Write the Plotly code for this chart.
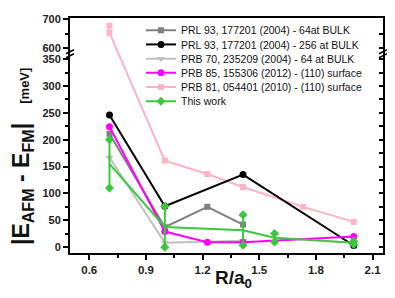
import plotly.graph_objects as go

# ---------------- data ----------------
prl64_x = [0.707, 1.0, 1.225, 1.414]
prl64_y = [211, 37, 75, 42]

prl256_x = [0.707, 1.0, 1.414, 2.0]
prl256_y = [246, 76, 135, 3]

prb70_x = [0.707, 1.0, 1.414]
prb70_y = [167, 8, 12]

prb85_x = [0.707, 1.0, 1.225, 1.414, 2.0]
prb85_y = [224, 29, 9, 9, 20]

prb81_x = [0.707, 0.707, 1.0, 1.225, 1.414, 1.732, 2.0]
prb81_y = [677, 653, 161, 136, 112, 75, 47]

this_x = [0.707, 1.0, 1.414, 1.581, 2.0]
this_y = [155, 37.5, 31.5, 17.5, 8]
this_lo = [110, 0, 3.5, 9.5, 5]
this_hi = [200, 76, 60, 25.5, 11]

names = [
    "PRL 93, 177201 (2004) - 64at BULK",
    "PRL 93, 177201 (2004) - 256 at BULK",
    "PRB 70, 235209 (2004) - 64 at BULK",
    "PRB 85, 155306 (2012) - (110) surface",
    "PRB 81, 054401 (2010) - (110) surface",
    "This work",
]

y_major = [0, 50, 100, 150, 200, 250, 300, 350, 600, 700]
y_minor = [25, 75, 125, 175, 225, 275, 325, 650]
x_ticks = [0.6, 0.9, 1.2, 1.5, 1.8, 2.1]

# ---------------- screen geometry ----------------
# the page body has an 8px margin, so the figure starts at (8, 8) on screen
OFF = 8
PL, PR, PT, PB = 70, 383, 13, 253          # plot area on screen
FIG_W, FIG_H = 395 - OFF, 298 - OFF
PW, PH = PR - PL, PB - PT

# ---------------- broken-axis scale ----------------
LOW_SCALE = (247 - 55) / 350                # px per unit, lower part
LOW_MAX = 350
GAP = 11 / LOW_SCALE                         # visual gap 350 -> 600
UP_MIN = 600
UP_SCALE = 0.30 / LOW_SCALE                  # upper part compression


def brk(v):
    if v is None:
        return None
    return v if v <= LOW_MAX + 10 else LOW_MAX + GAP + (v - UP_MIN) * UP_SCALE


def tb(vals):
    return [brk(v) for v in vals]


y_bottom = -(PB - 247) / LOW_SCALE
y_top = y_bottom + PH / LOW_SCALE
yr = [y_bottom, y_top]


def px_x(px):
    return (px - PL) / PW


def px_y(py):
    return (PB - py) / PH


FONT = "Arial, Liberation Sans, sans-serif"
GREEN = "#3cc83c"

fig = go.Figure()

series = [
    (prb81_x, prb81_y, "#ffb3c6", "square", 6, names[4], "legend5"),
    (prl64_x, prl64_y, "#808080", "square", 6, names[0], "legend"),
    (prb70_x, prb70_y, "#c0c0c0", "triangle-down", 7, names[2], "legend3"),
    (prl256_x, prl256_y, "#000000", "circle", 7, names[1], "legend2"),
    (prb85_x, prb85_y, "#ff00ff", "circle", 7, names[3], "legend4"),
]
for xs, ys, col, sym, sz, nm, lg in series:
    fig.add_trace(go.Scatter(
        x=xs, y=tb(ys), name=nm, mode="lines+markers", legend=lg,
        line=dict(color=col, width=2),
        marker=dict(color=col, symbol=sym, size=sz),
        text=[str(v) for v in ys], hoverinfo="text+name",
    ))

# This work: line through mid values, vertical error bars, diamonds at ends
fig.add_trace(go.Scatter(
    x=this_x, y=this_y, mode="lines", showlegend=False,
    line=dict(color=GREEN, width=2),
    error_y=dict(type="data", symmetric=False,
                 array=[h - m for h, m in zip(this_hi, this_y)],
                 arrayminus=[m - l for m, l in zip(this_y, this_lo)],
                 color=GREEN, thickness=2, width=0),
))
fig.add_trace(go.Scatter(
    x=this_x + this_x, y=this_lo + this_hi, mode="markers", showlegend=False,
    marker=dict(color=GREEN, symbol="diamond", size=7),
))
fig.add_trace(go.Scatter(
    x=[None], y=[None], mode="lines+markers", name=names[5], legend="legend6",
    line=dict(color=GREEN, width=2),
    marker=dict(color=GREEN, symbol="diamond", size=7),
))
# dummy trace for right-side tick axis
fig.add_trace(go.Scatter(x=[None], y=[None], yaxis="y2", showlegend=False,
                         hoverinfo="skip"))

fig.update_layout(
    width=FIG_W, height=FIG_H,
    margin=dict(l=PL - OFF, r=FIG_W - (PR - OFF), t=PT - OFF, b=FIG_H - (PB - OFF)),
    paper_bgcolor="white", plot_bgcolor="white",
    font=dict(family=FONT, color="#111"),
    xaxis=dict(
        range=[0.498, 2.155], tickvals=x_ticks,
        ticktext=[f"{v:.1f}" for v in x_ticks],
        showgrid=False, zeroline=False,
        showline=True, linecolor="black", linewidth=2, mirror=True,
        ticks="outside", ticklen=5, tickwidth=1.5, tickcolor="black",
        tickfont=dict(family=FONT, size=11.5, weight="bold", color="#222"),
        minor=dict(tickvals=[0.75, 1.05, 1.35, 1.65, 1.95], ticks="outside",
                   ticklen=3, tickwidth=1.5, tickcolor="black"),
    ),
    yaxis=dict(
        range=yr, tickvals=tb(y_major), ticktext=[str(v) for v in y_major],
        showgrid=False, zeroline=False, ticklabeloverflow="allow",
        showline=True, linecolor="black", linewidth=2, mirror=True,
        ticks="outside", ticklen=5, tickwidth=1.5, tickcolor="black",
        tickfont=dict(family=FONT, size=11, weight="bold", color="#222"),
        minor=dict(tickvals=tb(y_minor), ticks="outside", ticklen=3,
                   tickwidth=1.5, tickcolor="black"),
    ),
    yaxis2=dict(
        range=yr, overlaying="y", side="right",
        tickvals=tb(y_major + y_minor), showticklabels=False,
        showgrid=False, zeroline=False, showline=False,
        ticks="inside", ticklen=4, tickwidth=1.5, tickcolor="black",
    ),
)

# legends: one per entry so rows can sit close together
leg_rows_px = [25.5, 40, 54.5, 69, 83.5, 98]
leg_keys = ["legend", "legend2", "legend3", "legend4", "legend5", "legend6"]
for key, py in zip(leg_keys, leg_rows_px):
    fig.update_layout({key: dict(
        x=px_x(141), xanchor="left",
        y=px_y(py), yanchor="middle",
        bgcolor="rgba(0,0,0,0)", borderwidth=0,
        font=dict(family=FONT, size=10.5, color="#111"),
        itemwidth=30, tracegroupgap=0,
    )})

# axis titles
fig.add_annotation(
    text="<b>|E<sub>AFM</sub> - E<sub>FM</sub>|</b>   <b><span style='font-size:13px'>[meV]</span></b>",
    xref="paper", yref="paper", x=px_x(22), y=px_y(155),
    textangle=-90, showarrow=False, xanchor="center", yanchor="middle",
    font=dict(family=FONT, size=23, color="#111"),
)
fig.add_annotation(
    text="<b>R/a<sub>0</sub></b>",
    xref="paper", yref="paper", x=px_x(233), y=px_y(280),
    showarrow=False, xanchor="center", yanchor="middle",
    font=dict(family=FONT, size=19, color="#111"),
)

# break marks on both vertical axes
brk_center = LOW_MAX + GAP / 2
for xa in (0, 1):
    for off in (-2, 2):
        fig.add_shape(
            type="line", xref="paper", yref="y",
            xsizemode="pixel", xanchor=xa, x0=-4, x1=4,
            ysizemode="pixel", yanchor=brk_center, y0=off - 2, y1=off + 2,
            line=dict(color="black", width=1.5),
        )

fig.write_html("out.html")
